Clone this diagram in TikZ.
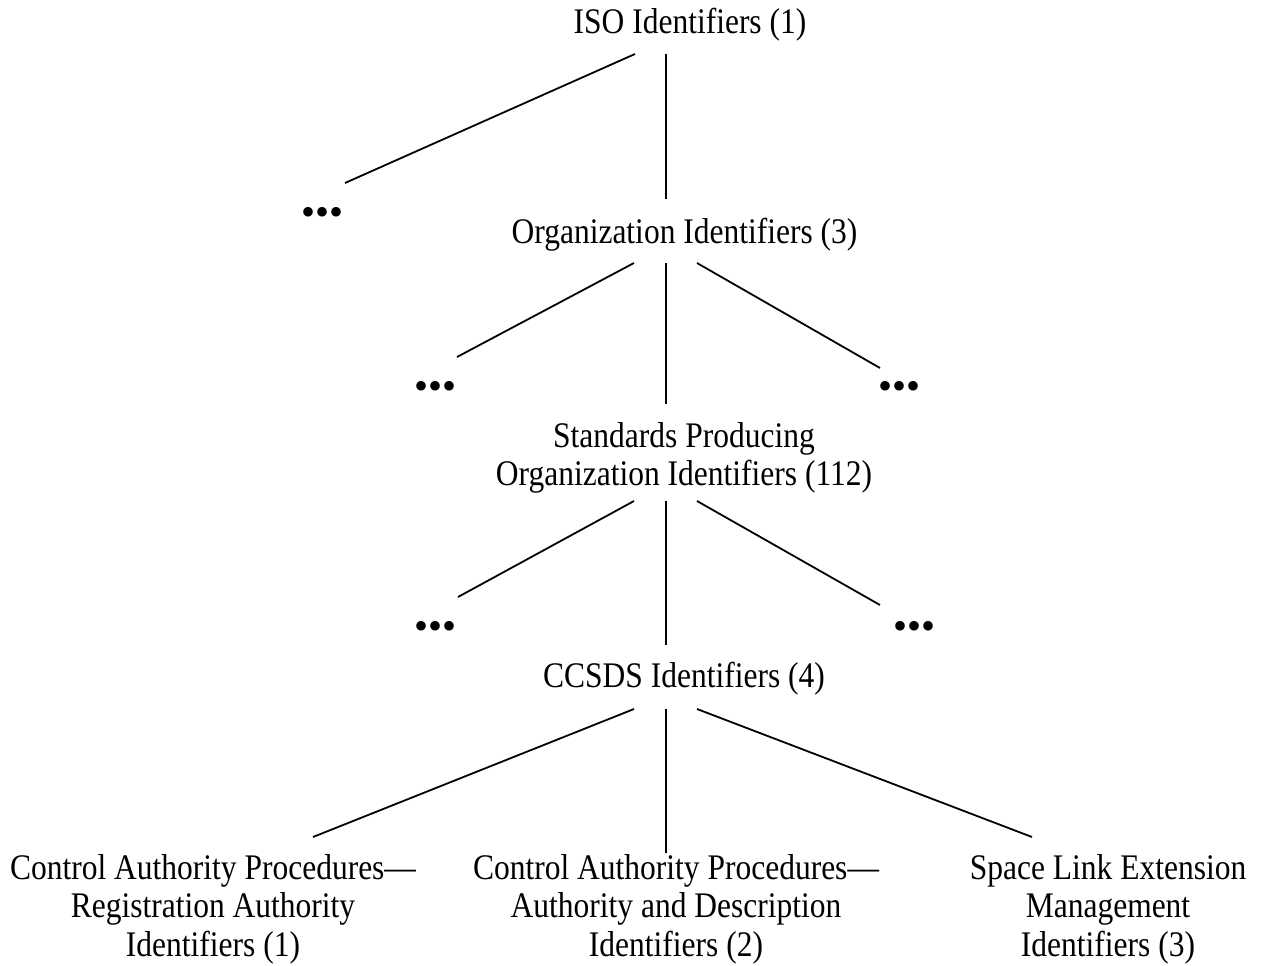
\documentclass[tikz,border=0pt]{standalone}
\usepackage{fontspec}
\setmainfont{Liberation Serif}[FakeStretch=0.875]
\newfontfamily\dotfont{Liberation Serif}
\begin{document}
\begin{tikzpicture}[x=1pt,y=-1pt,
  lbl/.style={anchor=north,inner sep=0pt,align=center,font=\fontsize{36}{38.5}\selectfont},
  more/.style={anchor=north,inner sep=0pt,font=\dotfont\fontsize{40}{40}\selectfont},
  link/.style={line width=1.8pt,line cap=butt}]
\useasboundingbox[fill=white] (0,0) rectangle (1264,966);

% labels
\node[lbl] (iso)   at (690,6.05)   {\strut ISO Identifiers (1)};
\node[lbl] (org)   at (684.5,216.05) {\strut Organization Identifiers (3)};
\node[lbl] (std)   at (684,420.05) {\strut Standards Producing\\Organization Identifiers (112)};
\node[lbl] (ccsds) at (684,660.05) {\strut CCSDS Identifiers (4)};
\node[lbl] (rai)   at (213,852.05) {\strut Control Authority Procedures—\\Registration Authority\\Identifiers (1)};
\node[lbl] (adi)   at (676,852.05) {\strut Control Authority Procedures—\\Authority and Description\\Identifiers (2)};
\node[lbl] (sle)   at (1108,852.05) {\strut Space Link Extension\\Management\\Identifiers (3)};

% ellipses
\node[more] (d1)  at (323,207)   {•••};
\node[more] (d2l) at (435.5,381) {•••};
\node[more] (d2r) at (899.5,381) {•••};
\node[more] (d3l) at (435.5,621) {•••};
\node[more] (d3r) at (914.5,621) {•••};

% connector end points
\coordinate (iso-l) at (635,54);   \coordinate (iso-m) at (666,54);
\coordinate (d1-t)  at (345,183);  \coordinate (org-t) at (666,199);
\coordinate (org-l) at (634,263);  \coordinate (org-m) at (666,263);  \coordinate (org-r) at (697,263);
\coordinate (d2l-t) at (457,357);  \coordinate (std-t) at (666,404);  \coordinate (d2r-t) at (880,368);
\coordinate (std-l) at (634,501);  \coordinate (std-m) at (666,501);  \coordinate (std-r) at (697,501);
\coordinate (d3l-t) at (458,597);  \coordinate (cc-t)  at (666,645);  \coordinate (d3r-t) at (880,605);
\coordinate (cc-l)  at (634,709);  \coordinate (cc-m)  at (666,709);  \coordinate (cc-r)  at (697,709);
\coordinate (rai-t) at (313,837);  \coordinate (adi-t) at (666,853);  \coordinate (sle-t) at (1032,837);

% connectors
\draw[link] (iso-l) -- (d1-t);
\draw[link] (iso-m) -- (org-t);
\draw[link] (org-l) -- (d2l-t);
\draw[link] (org-m) -- (std-t);
\draw[link] (org-r) -- (d2r-t);
\draw[link] (std-l) -- (d3l-t);
\draw[link] (std-m) -- (cc-t);
\draw[link] (std-r) -- (d3r-t);
\draw[link] (cc-l) -- (rai-t);
\draw[link] (cc-m) -- (adi-t);
\draw[link] (cc-r) -- (sle-t);
\end{tikzpicture}
\end{document}
